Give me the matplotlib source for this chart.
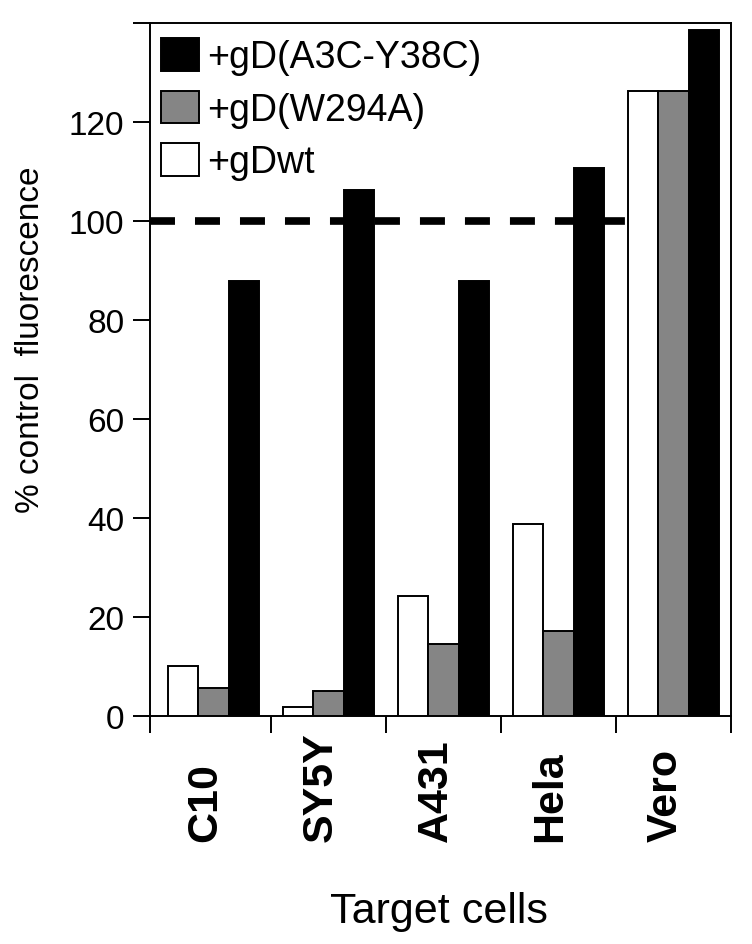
import numpy as np
import matplotlib.pyplot as plt
from matplotlib.patches import Rectangle

plt.rcParams['font.family'] = ['Liberation Sans', 'DejaVu Sans']

# data (% control fluorescence)
cells = ['C10', 'SY5Y', 'A431', 'Hela', 'Vero']
gd_wt = [10.2, 1.8, 24.2, 38.7, 126.3]
gd_w294a = [5.7, 5.1, 14.5, 17.1, 126.3]
gd_a3c_y38c = [87.8, 106.3, 87.8, 110.7, 138.6]
control_level = 100

fig = plt.figure(figsize=(7.52, 9.45), dpi=100)
ax = fig.add_axes([150/752, 1 - 717/945, 581/752, 693/945])

x = np.arange(len(cells))
w = 0.265
ax.bar(x - w, gd_wt, w, color='white', edgecolor='black', linewidth=1.4, zorder=3)
ax.bar(x, gd_w294a, w, color='#858585', edgecolor='black', linewidth=1.4, zorder=3)
ax.bar(x + w, gd_a3c_y38c, w, color='black', edgecolor='black', linewidth=1.4, zorder=3)

x_left = -0.554
x_right = 4.5

# dashed 100% line, stops at the Vero bars
line_end = x[-1] - 1.5 * w
ln, = ax.plot([x_left, line_end], [control_level, control_level], color='black',
              linewidth=5.5, zorder=4, solid_capstyle='butt', dash_capstyle='butt')
ln.set_dashes((3.27, 2.62))

ax.set_xlim(x_left, x_right)
ax.set_ylim(0, 140)

yt = np.arange(0, 141, 20)
ax.set_yticks(yt)
ax.set_yticklabels([str(v) if v < 140 else '' for v in yt])
ax.set_xticks([x_left] + list(x[:-1] + 0.5) + [x_right])
ax.set_xticklabels([])

ax.tick_params(axis='both', direction='out', length=12.5, width=1.4, labelsize=24, pad=6)
for s in ax.spines.values():
    s.set_linewidth(1.4)

for i, c in enumerate(cells):
    ax.text(i - 0.07, -125/4.95, c, rotation=90, ha='center', va='bottom',
            fontsize=31, fontweight='bold', transform=ax.transData, clip_on=False)

ax.set_ylabel('% control  fluorescence', fontsize=24, va='center')
ax.yaxis.set_label_coords(-0.205, 0.545)
ax.set_xlabel('Target cells', fontsize=31, va='top')
ax.xaxis.set_label_coords(0.497, -0.252)

handles = [Rectangle((0, 0), 1, 1, facecolor=fc, edgecolor='black', linewidth=1.4)
           for fc in ['black', '#858585', 'white']]
labels = ['+gD(A3C-Y38C)', '+gD(W294A)', '+gDwt']
ax.legend(handles, labels, loc='upper left', bbox_to_anchor=(161/752, 1 - 39/945),
          bbox_transform=fig.transFigure, frameon=False, fontsize=27,
          handlelength=1.01, handleheight=0.96, handletextpad=0.21,
          labelspacing=0.41, borderpad=0, borderaxespad=0)

fig.savefig('out.png', dpi=100)
